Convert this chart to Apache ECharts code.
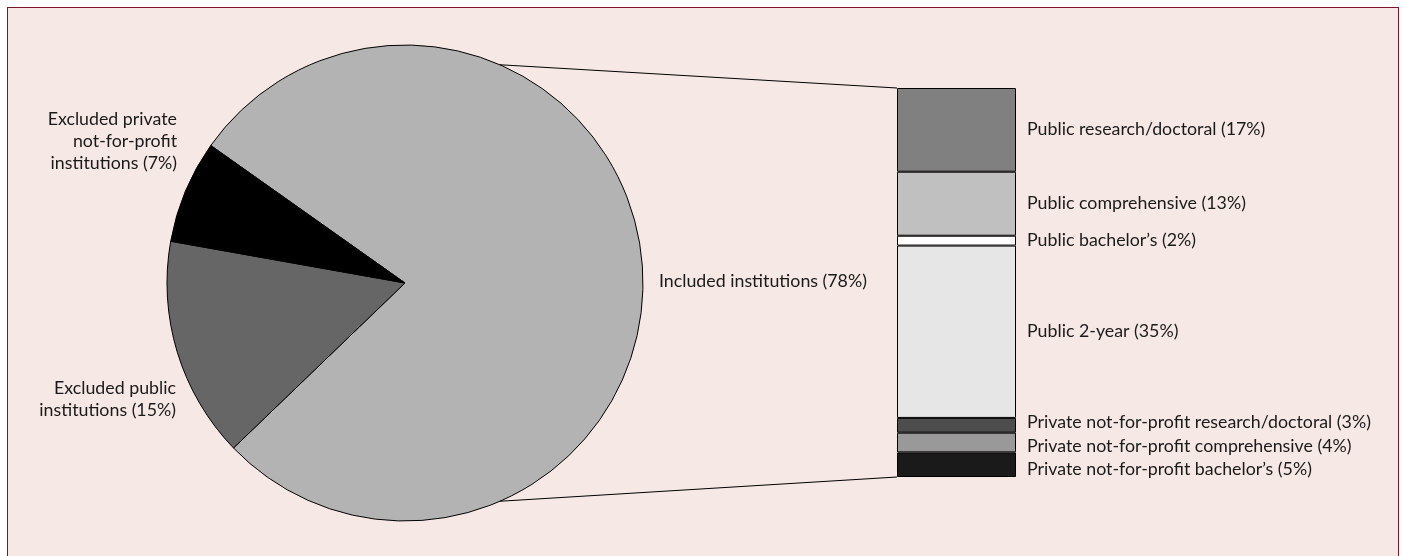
<!DOCTYPE html>
<html>
<head>
<meta charset="utf-8">
<script src="https://cdn.jsdelivr.net/npm/echarts@6/dist/echarts.min.js"></script>
<style>
  html, body { margin: 0; padding: 0; background: #fff; overflow: hidden; }
  .frame {
    position: absolute; left: 7px; top: 7px; width: 1390px; height: 600px;
    background: #f6e8e5;
    border-left: 1.5px solid #7a1426; border-top: 1.5px solid #7a1426; border-right: 1.5px solid #7a1426;
  }
  #chart { position: absolute; left: 0; top: 0; width: 1403px; height: 556px; }
</style>
</head>
<body>
<div class="frame"></div>
<div id="chart"></div>
<script>
// pie: all institutions
const sliceNames = ["Included institutions", "Excluded public institutions", "Excluded private not-for-profit institutions"];
const slicePct = [78, 15, 7];
const sliceLabels = ["Included institutions (78%)", "Excluded public\ninstitutions (15%)", "Excluded private\nnot-for-profit\ninstitutions (7%)"];
const sliceColors = ["#b3b3b3", "#666666", "#000000"];

// stacked bar: breakdown of included institutions (top to bottom)
const segNames = [
  "Public research/doctoral",
  "Public comprehensive",
  "Public bachelor\u2019s",
  "Public 2-year",
  "Private not-for-profit research/doctoral",
  "Private not-for-profit comprehensive",
  "Private not-for-profit bachelor\u2019s"
];
const segPct = [17, 13, 2, 35, 3, 4, 5];
const segColors = ["#808080", "#c0c0c0", "#ffffff", "#e6e6e6", "#4d4d4d", "#999999", "#1a1a1a"];
const segLabelShift = [-1, 0, 0, 0, -3, 4, 5];

const font = "Lato, 'Noto Sans', sans-serif";
const fontSize = 17.8;
const pieC = [405, 283], pieR = 238;
const barL = 897, barT = 88, barW = 119, barH = 389;

let chart = echarts.init(document.getElementById("chart"));

// pie label spots
const pieLabelPos = [
  { x: 659, y: 281, align: "left" },
  { x: 176, y: 399, align: "right" },
  { x: 177, y: 141, align: "right" }
];

let series = [
  {
    type: "pie",
    center: pieC,
    radius: pieR,
    startAngle: 144.7,
    clockwise: true,
    animation: false,
    silent: true,
    itemStyle: { borderColor: "#000", borderWidth: 1 },
    label: {
      show: true,
      position: "outside",
      overflow: "none",
      formatter: p => sliceLabels[p.dataIndex],
      color: "#1a1a1a",
      fontFamily: font,
      fontSize: fontSize,
      lineHeight: 22
    },
    labelLine: { show: false },
    labelLayout: p => ({
      x: pieLabelPos[p.dataIndex].x,
      y: pieLabelPos[p.dataIndex].y,
      align: pieLabelPos[p.dataIndex].align,
      verticalAlign: "middle"
    }),
    data: sliceNames.map((n, i) => ({ name: n, value: slicePct[i], itemStyle: { color: sliceColors[i] } }))
  }
];

segNames.forEach((n, i) => {
  series.push({
    type: "bar",
    name: n,
    stack: "inc",
    barWidth: "100%",
    animation: false,
    silent: true,
    data: [segPct[i]],
    itemStyle: { color: segColors[i], borderColor: "#000", borderWidth: 1 },
    label: {
      show: true,
      position: "right",
      distance: 11,
      offset: [0, segLabelShift[i]],
      formatter: p => p.seriesName + " (" + p.value + "%)",
      color: "#1a1a1a",
      fontFamily: font,
      fontSize: fontSize
    }
  });
});

// connector lines from pie edge to bar corners
const a = 66.5 * Math.PI / 180;
const px = pieC[0] + pieR * Math.cos(a);
const pyTop = pieC[1] - pieR * Math.sin(a);
const pyBot = pieC[1] + pieR * Math.sin(a);

chart.setOption({
  backgroundColor: "transparent",
  animation: false,
  grid: { left: barL, top: barT, width: barW, height: barH },
  xAxis: { type: "category", data: [""], show: false },
  yAxis: { type: "value", inverse: true, min: 0, max: segPct.reduce((s, v) => s + v, 0), show: false },
  graphic: [
    { type: "line", z: 100, shape: { x1: px, y1: pyTop, x2: barL, y2: barT }, style: { stroke: "#000", lineWidth: 1.2 } },
    { type: "line", z: 100, shape: { x1: px, y1: pyBot, x2: barL, y2: barT + barH }, style: { stroke: "#000", lineWidth: 1.2 } }
  ],
  series: series
});
</script>
</body>
</html>
